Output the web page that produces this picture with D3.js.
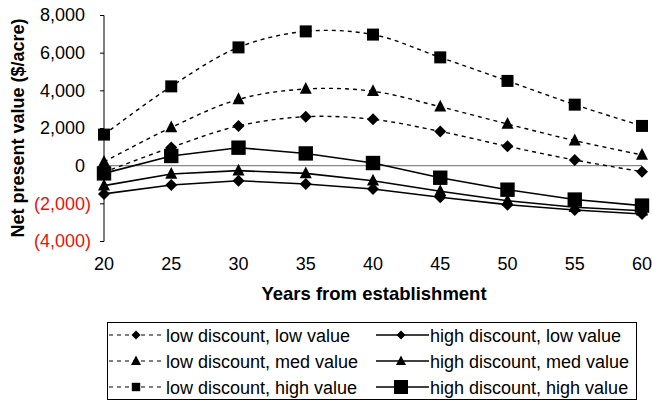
<!DOCTYPE html>
<html><head><meta charset="utf-8">
<script src="https://cdn.jsdelivr.net/npm/d3@7"></script>
<style>body{margin:0;background:#fff}svg{display:block}text{font-family:"Liberation Sans",Arial,sans-serif}</style>
</head><body>
<svg id="c" width="652" height="402"></svg>
<script>
const years = [20,25,30,35,40,45,50,55,60];
const lowDiscLowVal  = [-350, 970, 2110, 2600, 2460, 1820, 1030, 300, -320];
const lowDiscMedVal  = [200, 2030, 3520, 4070, 3950, 3130, 2210, 1330, 570];
const lowDiscHighVal = [1650, 4210, 6280, 7130, 6960, 5750, 4500, 3240, 2110];
const highDiscLowVal  = [-1500, -1025, -800, -970, -1240, -1680, -2070, -2350, -2570];
const highDiscMedVal  = [-1060, -440, -265, -410, -800, -1360, -1860, -2210, -2390];
const highDiscHighVal = [-410, 515, 955, 650, 140, -640, -1275, -1800, -2120];
const yTicks = [-4000,-2000,0,2000,4000,6000,8000];
const seriesNames = ["low discount, low value","high discount, low value","low discount, med value","high discount, med value","low discount, high value","high discount, high value"];

const series = [
  {name:seriesNames[0], vals:lowDiscLowVal, dash:true, shape:"diamond"},
  {name:seriesNames[1], vals:highDiscLowVal, dash:false, shape:"diamond"},
  {name:seriesNames[2], vals:lowDiscMedVal, dash:true, shape:"triangle"},
  {name:seriesNames[3], vals:highDiscMedVal, dash:false, shape:"triangle"},
  {name:seriesNames[4], vals:lowDiscHighVal, dash:true, shape:"square"},
  {name:seriesNames[5], vals:highDiscHighVal, dash:false, shape:"square"}
];

const svg = d3.select("#c");
const x = d3.scaleLinear().domain([20,60]).range([104,642]);
const y = d3.scaleLinear().domain([-4000,8000]).range([241,15]);

const fmt = v => v<0 ? "("+d3.format(",")(-v)+")" : d3.format(",")(v);

// y axis
const ya = svg.append("g").attr("transform","translate(104,0)")
  .call(d3.axisLeft(y).tickValues(yTicks).tickSize(4).tickFormat(fmt));
ya.select(".domain").attr("stroke","#000").attr("d","M-4,15.5H0V241.5H-4").attr("stroke-width",1);
ya.selectAll(".tick line").attr("stroke","#000");
ya.selectAll(".tick text").attr("x",d=>d<0?-13:-19).attr("font-size",18)
  .attr("fill",d=>d<0?"#e8120c":"#000");

// zero line
svg.append("line").attr("x1",x(20)).attr("x2",x(60)).attr("y1",y(0)).attr("y2",y(0))
  .attr("stroke","#888").attr("stroke-width",1.2);

// x tick labels
svg.append("g").selectAll("text").data(years).join("text")
  .attr("x",d=>x(d)).attr("y",270).attr("text-anchor","middle").attr("font-size",18).text(d=>d);

// titles
svg.append("text").attr("x",374).attr("y",300).attr("text-anchor","middle")
  .attr("font-size",18.5).attr("font-weight","bold").text("Years from establishment");
svg.append("text").attr("transform","translate(24,128) rotate(-90)").attr("text-anchor","middle")
  .attr("font-size",18).attr("font-weight","bold").text("Net present value ($/acre)");

function marker(g, shape, big){
  if(shape==="diamond"){
    const s=6;
    g.append("path").attr("d",`M0,${-s}L${s},0L0,${s}L${-s},0Z`).attr("fill","#000");
  } else if(shape==="triangle"){
    const s=6;
    g.append("path").attr("d",`M0,${-s-1}L${s},${s*0.8}L${-s},${s*0.8}Z`).attr("fill","#000");
  } else {
    const s=big?7.2:6;
    g.append("rect").attr("x",-s).attr("y",-s).attr("width",2*s).attr("height",2*s).attr("fill","#000");
  }
}

const line = d3.line().x((d,i)=>x(years[i])).y(d=>y(d));
series.forEach(s=>{
  const lg = line.curve(s.dash?d3.curveCatmullRom.alpha(0.5):d3.curveLinear);
  svg.append("path").attr("d",lg(s.vals)).attr("fill","none").attr("stroke","#000")
    .attr("stroke-width",s.dash?1.4:1.6).attr("stroke-dasharray",s.dash?"4,4":null);
  s.vals.forEach((v,i)=>{
    const g=svg.append("g").attr("transform",`translate(${x(years[i])},${y(v)})`);
    marker(g,s.shape,!s.dash);
  });
});

// legend
svg.append("rect").attr("x",107.5).attr("y",322.5).attr("width",529).attr("height",77)
  .attr("fill","#fff").attr("stroke","#000").attr("stroke-width",1);
const rows=[335,361,387];
series.forEach((s,k)=>{
  const col=k%2, row=Math.floor(k/2);
  const x0 = col===0?109:376, x1 = col===0?162:429, mx = col===0?136:401, yy=rows[row];
  svg.append("line").attr("x1",x0).attr("x2",x1).attr("y1",yy).attr("y2",yy)
    .attr("stroke","#000").attr("stroke-width",s.dash?1.2:1.4).attr("stroke-dasharray",s.dash?"4,4":null);
  const g=svg.append("g").attr("transform",`translate(${mx},${yy})`);
  if(s.shape==="diamond"){g.append("path").attr("d","M0,-4.5L4.5,0L0,4.5L-4.5,0Z");}
  else if(s.shape==="triangle"){g.append("path").attr("d","M0,-5.5L5,4L-5,4Z");}
  else {const q=col===0?4.2:7;g.append("rect").attr("x",-q).attr("y",-q).attr("width",2*q).attr("height",2*q);}
  svg.append("text").attr("x",col===0?166:430).attr("y",yy+6.5).attr("font-size",18).text(s.name);
});
</script>
</body></html>
